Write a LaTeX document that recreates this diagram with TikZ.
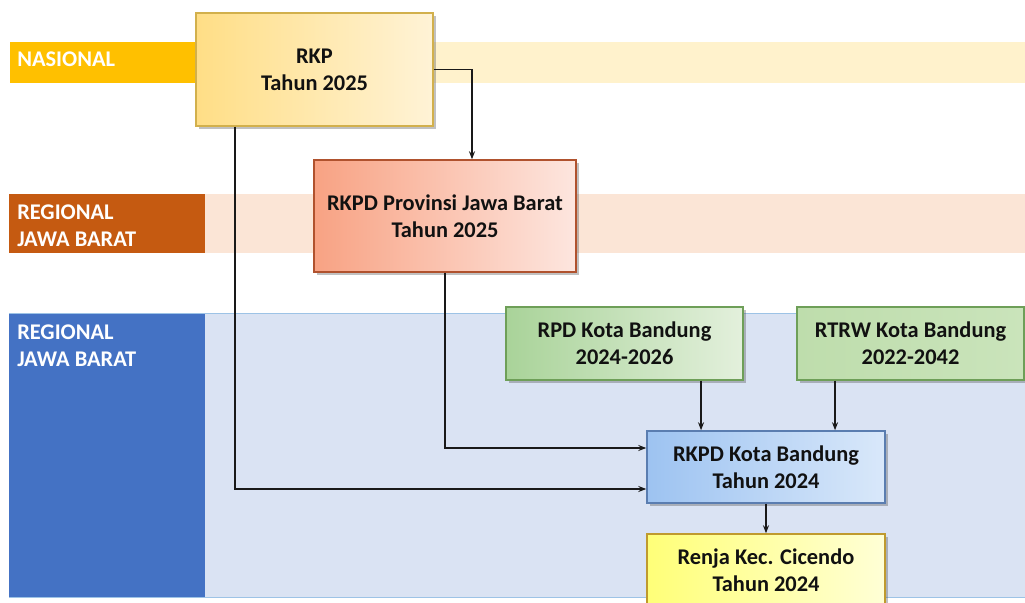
\documentclass[tikz,border=0pt]{standalone}
\usepackage{fontspec}
\setmainfont{Carlito}
\usetikzlibrary{arrows.meta,shadows,calc}
\definecolor{nasDark}{HTML}{FFC000}
\definecolor{nasLight}{HTML}{FFF2CC}
\definecolor{regDark}{HTML}{C55A11}
\definecolor{regLight}{HTML}{FBE5D6}
\definecolor{bluDark}{HTML}{4472C4}
\definecolor{bluLight}{HTML}{DAE3F3}
\definecolor{bluEdge}{HTML}{9DC3E6}
\definecolor{rkpA}{HTML}{FFDE86}
\definecolor{rkpB}{HTML}{FFF3D6}
\definecolor{rkpE}{HTML}{D2B04C}
\definecolor{provA}{HTML}{F8A283}
\definecolor{provB}{HTML}{FDE6DF}
\definecolor{provE}{HTML}{B0522E}
\definecolor{grnA}{HTML}{A9D399}
\definecolor{grnB}{HTML}{E3F0DC}
\definecolor{grnC}{HTML}{BEDDAC}
\definecolor{grnD}{HTML}{CAE4BB}
\definecolor{grnE}{HTML}{6E9F58}
\definecolor{kotA}{HTML}{9DC3F1}
\definecolor{kotB}{HTML}{D9E8FA}
\definecolor{kotE}{HTML}{5A7DB0}
\definecolor{renA}{HTML}{FFFF78}
\definecolor{renB}{HTML}{FFFFD6}
\definecolor{renE}{HTML}{BF9A2E}
\definecolor{txt}{HTML}{111111}
\tikzset{
  boxbase/.style={rectangle, draw, line width=1.1pt, align=center, text=txt,
    font=\fontsize{16.8}{20.25}\selectfont\bfseries,
    drop shadow={shadow xshift=1.9pt, shadow yshift=-1.9pt, opacity=0.35, fill=black!70}},
  bandlabel/.style={anchor=west, align=left, text=white, inner sep=0pt,
    font=\fontsize{16.8}{20.25}\selectfont\bfseries},
  arr/.style={draw=black!90, line width=1.05pt, -{Stealth[length=6pt,width=4.5pt]}}
}
\begin{document}
\begin{tikzpicture}[x=0.75pt,y=-0.75pt]
\useasboundingbox (0,0) rectangle (1025,603);
\clip (0,0) rectangle (1025,603);
% bands
\fill[nasLight] (10,42) rectangle (1025,83);
\fill[nasDark] (10,42) rectangle (195,83);
\fill[regLight] (9,194) rectangle (1025,253);
\fill[regDark] (9,194) rectangle (205,253);
\filldraw[fill=bluLight, draw=bluEdge, line width=0.75pt] (9,313) rectangle (1030,597);
\fill[bluDark] (9,313.5) rectangle (205,596.5);
\node[bandlabel] (lnas) at (17,59) {NASIONAL};
\node[bandlabel] (lreg) at (17,225.5) {REGIONAL\\JAWA BARAT};
\node[bandlabel] (lkota) at (17,345.5) {REGIONAL\\JAWA BARAT};
% boxes
\node[boxbase, draw=rkpE, left color=rkpA, right color=rkpB,
  minimum width=177.75pt, minimum height=84.75pt] (rkp) at (314.5,69.5) {RKP\\Tahun 2025};
\node[boxbase, draw=provE, left color=provA, right color=provB,
  minimum width=196.5pt, minimum height=84pt] (prov) at (445,216) {RKPD Provinsi Jawa Barat\\Tahun 2025};
\node[boxbase, draw=grnE, left color=grnA, right color=grnB,
  minimum width=177.75pt, minimum height=54.75pt] (rpd) at (624.5,343.5) {RPD Kota Bandung\\2024-2026};
\node[boxbase, draw=grnE, left color=grnC, right color=grnD,
  minimum width=170.25pt, minimum height=54.75pt] (rtrw) at (910.5,343.5) {RTRW Kota Bandung\\2022-2042};
\node[boxbase, draw=kotE, left color=kotA, right color=kotB,
  minimum width=178.5pt, minimum height=54pt] (kota) at (766,467) {RKPD Kota Bandung\\Tahun 2024};
\node[boxbase, draw=renE, left color=renA, right color=renB,
  minimum width=178.5pt, minimum height=54pt] (renja) at (766,570) {Renja Kec. Cicendo\\Tahun 2024};
% connectors
\draw[arr] (rkp.east) -| ([xshift=20.25pt]prov.north);
\draw[arr] ([xshift=-59.6pt]rkp.south) |- ([yshift=-16.5pt]kota.west);
\draw[arr] (prov.south) |- ([yshift=14.25pt]kota.west);
\draw[arr] ([xshift=57.4pt]rpd.south) -- ([xshift=57.4pt]rpd.south |- kota.north);
\draw[arr] ([xshift=-56.6pt]rtrw.south) -- ([xshift=-56.6pt]rtrw.south |- kota.north);
\draw[arr] (kota.south) -- (renja.north);
\end{tikzpicture}
\end{document}
